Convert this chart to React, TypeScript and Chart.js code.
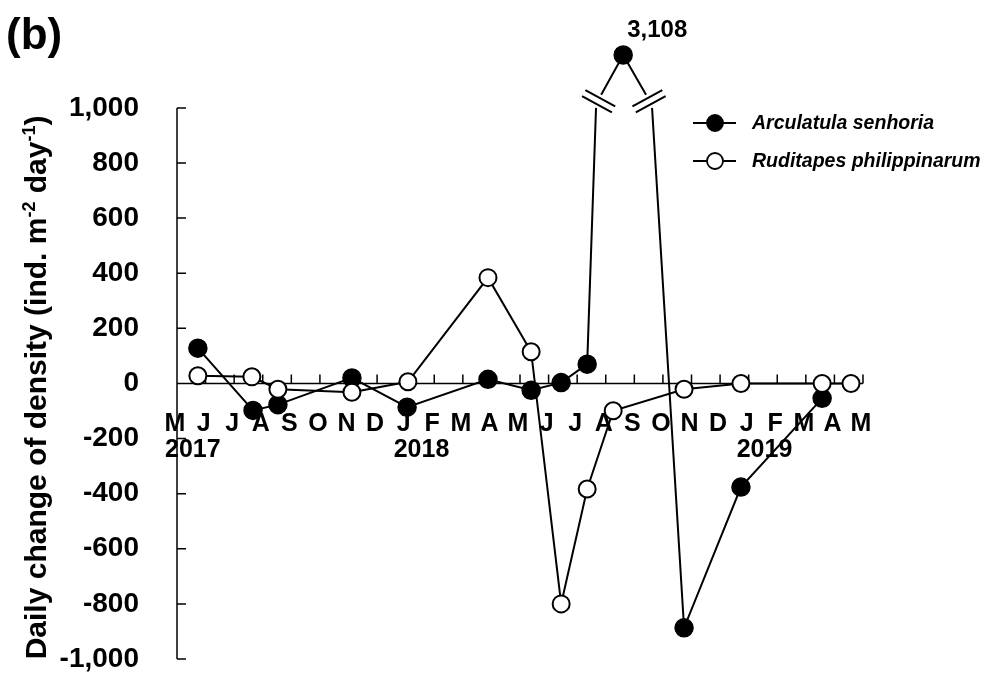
import React, { useEffect, useRef } from "react";
import { Chart, registerables } from "chart.js";

Chart.register(...registerables);

// ---- data ----
const monthLabels = ["M", "J", "J", "A", "S", "O", "N", "D", "J", "F", "M", "A", "M", "J", "J", "A", "S", "O", "N", "D", "J", "F", "M", "A", "M"];
const yearLabels = ["2017", "2018", "2019"];
const yearMonthIndex = [0, 8, 20];
const yTicks = [-1000, -800, -600, -400, -200, 0, 200, 400, 600, 800, 1000];

// month index: 0 = May 2017
const arcMonth = [0.73, 2.66, 3.53, 6.12, 8.05, 10.88, 12.39, 13.44, 14.35, 15.61, 17.74, 19.73, 22.57];
const arcValues = [128, -98, -77, 20, -86, 15, -25, 3, 70, 3108, -887, -376, -54];

const rudMonth = [0.73, 2.62, 3.53, 6.12, 8.08, 10.88, 12.39, 13.44, 14.35, 15.26, 17.74, 19.73, 22.57, 23.58];
const rudValues = [28, 24, -21, -32, 6, 384, 115, -800, -383, -99, -21, 0, 0, 0];

const seriesNames = ["Arculatula senhoria", "Ruditapes philippinarum"];

// axis break (values above BREAK_AT are drawn above a broken axis)
const BREAK_AT = 1000;
const BREAK_RESUME = 1048;
const PEAK_PLOT = 1192;
const breakLeft = [14.66, 14.84];
const breakRight = [16.41, 16.62];

const FONT = '"Liberation Sans", Arial, Helvetica, sans-serif';

type Pt = { x: number; y: number | null; brk?: boolean; real?: number };

function buildBroken(months: number[], values: number[]): Pt[] {
  const out: Pt[] = [];
  months.forEach((m, i) => {
    const v = values[i];
    if (v > BREAK_AT) {
      out.push({ x: breakLeft[0], y: BREAK_AT, brk: true });
      out.push({ x: (breakLeft[0] + breakLeft[1]) / 2, y: null, brk: true });
      out.push({ x: breakLeft[1], y: BREAK_RESUME, brk: true });
      out.push({ x: m, y: PEAK_PLOT, real: v });
      out.push({ x: breakRight[0], y: BREAK_RESUME, brk: true });
      out.push({ x: (breakRight[0] + breakRight[1]) / 2, y: null, brk: true });
      out.push({ x: breakRight[1], y: BREAK_AT, brk: true });
    } else {
      out.push({ x: m, y: v });
    }
  });
  return out;
}

const fmt = (v: number) => Number(v).toLocaleString("en-US");

const decorPlugin = {
  id: "decor",
  beforeDatasetsDraw(chart: any) {
    const { ctx, scales } = chart;
    const x = scales.x;
    const y = scales.y;
    const y0 = y.getPixelForValue(0);
    const xl = x.getPixelForValue(0);
    const xr = x.getPixelForValue(monthLabels.length - 1);
    ctx.save();
    ctx.strokeStyle = "#000";
    ctx.lineWidth = 1.5;
    // y axis line and inward ticks
    const yTop = y.getPixelForValue(yTicks[yTicks.length - 1]);
    const yBot = y.getPixelForValue(yTicks[0]);
    ctx.beginPath();
    ctx.moveTo(xl, yTop);
    ctx.lineTo(xl, yBot);
    yTicks.forEach((v) => {
      const py = y.getPixelForValue(v);
      ctx.moveTo(xl, py);
      ctx.lineTo(xl + 9, py);
    });
    // zero line with upward ticks
    ctx.moveTo(xl, y0);
    ctx.lineTo(xr, y0);
    for (let i = 1; i < monthLabels.length; i++) {
      const px = x.getPixelForValue(i);
      ctx.moveTo(px, y0);
      ctx.lineTo(px, y0 - 9);
    }
    ctx.stroke();

    // month labels
    ctx.fillStyle = "#000";
    ctx.font = `bold 25px ${FONT}`;
    ctx.textAlign = "center";
    ctx.textBaseline = "alphabetic";
    monthLabels.forEach((m, i) => {
      ctx.fillText(m, x.getPixelForValue(i) - 2, y0 + 48);
    });
    // year labels
    ctx.textAlign = "left";
    yearLabels.forEach((yr, i) => {
      ctx.fillText(yr, x.getPixelForValue(yearMonthIndex[i]) - 12, y0 + 74);
    });

    // y axis title with superscripts
    const parts: [string, boolean][] = [
      ["Daily change of density (ind. m", false],
      ["-2", true],
      [" day", false],
      ["-1", true],
      [")", false],
    ];
    const mainFont = `bold 30px ${FONT}`;
    const supFont = `bold 18px ${FONT}`;
    let total = 0;
    parts.forEach(([t, s]) => {
      ctx.font = s ? supFont : mainFont;
      total += ctx.measureText(t).width;
    });
    ctx.save();
    ctx.translate(46, (y.getPixelForValue(yTicks[0]) + y.getPixelForValue(yTicks[yTicks.length - 1])) / 2 + 4);
    ctx.rotate(-Math.PI / 2);
    let cx = -total / 2;
    ctx.textAlign = "left";
    parts.forEach(([t, s]) => {
      ctx.font = s ? supFont : mainFont;
      ctx.fillText(t, cx, s ? -11 : 0);
      cx += ctx.measureText(t).width;
    });
    ctx.restore();

    // panel label
    ctx.font = `bold 44px ${FONT}`;
    ctx.textAlign = "left";
    ctx.fillText("(b)", 6, 49);
    ctx.restore();
  },
  afterDatasetsDraw(chart: any) {
    const { ctx, scales } = chart;
    const x = scales.x;
    const y = scales.y;
    ctx.save();
    ctx.strokeStyle = "#000";
    ctx.lineWidth = 2;
    // axis break marks
    const drawBreak = (bx: number[], ang: number) => {
      const cxp = x.getPixelForValue((bx[0] + bx[1]) / 2);
      const cyp = y.getPixelForValue((BREAK_AT + BREAK_RESUME) / 2);
      const len = 17;
      const dx = Math.cos(ang) * len;
      const dy = Math.sin(ang) * len;
      const nx = -Math.sin(ang) * 3.5;
      const ny = Math.cos(ang) * 3.5;
      ctx.beginPath();
      [-1, 1].forEach((s) => {
        ctx.moveTo(cxp - dx + s * nx, cyp - dy + s * ny);
        ctx.lineTo(cxp + dx + s * nx, cyp + dy + s * ny);
      });
      ctx.stroke();
    };
    drawBreak(breakLeft, 0.5);
    drawBreak(breakRight, -0.5);

    // peak value label
    const meta = chart.getDatasetMeta(0);
    const data = chart.data.datasets[0].data as Pt[];
    data.forEach((p, i) => {
      if (p.real !== undefined) {
        const el = meta.data[i];
        ctx.fillStyle = "#000";
        ctx.font = `bold 24px ${FONT}`;
        ctx.textAlign = "left";
        ctx.textBaseline = "alphabetic";
        ctx.fillText(fmt(p.real), el.x + 4, el.y - 18);
      }
    });

    // legend
    const rows = [
      { name: seriesNames[0], fill: "#000", y: 123 },
      { name: seriesNames[1], fill: "#fff", y: 161 },
    ];
    ctx.lineWidth = 1.8;
    rows.forEach((r) => {
      ctx.beginPath();
      ctx.moveTo(693, r.y);
      ctx.lineTo(736, r.y);
      ctx.stroke();
      ctx.beginPath();
      ctx.arc(715, r.y, 8, 0, Math.PI * 2);
      ctx.fillStyle = r.fill;
      ctx.fill();
      ctx.stroke();
      ctx.fillStyle = "#000";
      ctx.font = `italic bold 19.5px ${FONT}`;
      ctx.textAlign = "left";
      ctx.textBaseline = "middle";
      ctx.fillText(r.name, 752, r.y + 1);
    });
    ctx.restore();
  },
};

export default function App() {
  const ref = useRef<HTMLCanvasElement | null>(null);
  useEffect(() => {
    if (!ref.current) return;
    const radius = (c: any) => (c.raw && c.raw.brk ? 0 : 9);
    const chart = new Chart(ref.current, {
      type: "line",
      data: {
        datasets: [
          {
            label: seriesNames[0],
            data: buildBroken(arcMonth, arcValues) as any,
            borderColor: "#000",
            borderWidth: 2,
            pointBackgroundColor: "#000",
            pointBorderColor: "#000",
            pointBorderWidth: 1.5,
            pointRadius: radius,
            pointHoverRadius: radius,
            tension: 0,
            spanGaps: false,
            order: 1,
          },
          {
            label: seriesNames[1],
            data: rudMonth.map((m, i) => ({ x: m, y: rudValues[i] })),
            borderColor: "#000",
            borderWidth: 2,
            pointBackgroundColor: "#fff",
            pointBorderColor: "#000",
            pointBorderWidth: 2,
            pointRadius: 8.5,
            pointHoverRadius: 8.5,
            tension: 0,
            order: 0,
          },
        ],
      },
      options: {
        animation: false,
        responsive: false,
        events: [],
        layout: { padding: { left: 0, right: 125, top: 39, bottom: 16 } },
        plugins: { legend: { display: false }, tooltip: { enabled: false } },
        scales: {
          x: { type: "linear", min: 0, max: monthLabels.length - 1, display: false },
          y: {
            type: "linear",
            min: -1000,
            max: 1250,
            grid: { display: false, drawTicks: false },
            border: { display: false },
            ticks: {
              padding: 38,
              color: "#000",
              font: { family: FONT, size: 28, weight: "bold" },
              callback: (v: any) => fmt(v),
            },
            afterBuildTicks: (s: any) => {
              s.ticks = yTicks.map((v) => ({ value: v }));
            },
            afterFit: (s: any) => {
              s.width = 177;
              s.paddingTop = 0;
              s.paddingBottom = 0;
            },
          },
        },
      },
      plugins: [decorPlugin],
    } as any);
    return () => chart.destroy();
  }, []);
  return (
    <div style={{ position: "absolute", left: 0, top: 0, width: 988, height: 675, background: "#fff" }}>
      <canvas ref={ref} width={988} height={675} style={{ display: "block" }} />
    </div>
  );
}
